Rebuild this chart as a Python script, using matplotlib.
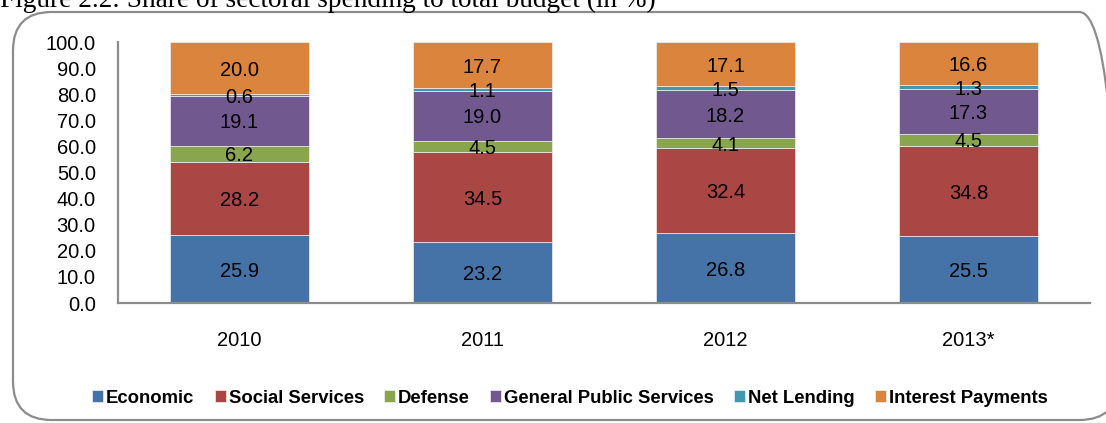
"""Stacked bar chart: share of sectoral spending to total budget"""
import matplotlib
matplotlib.use("Agg")
import matplotlib.pyplot as plt
from matplotlib.patches import FancyBboxPatch

years = ["2010", "2011", "2012", "2013*"]
sectors = ["Economic", "Social Services", "Defense", "General Public Services",
           "Net Lending", "Interest Payments"]
economic = [25.9, 23.2, 26.8, 25.5]
social = [28.2, 34.5, 32.4, 34.8]
defense = [6.2, 4.5, 4.1, 4.5]
general = [19.1, 19.0, 18.2, 17.3]
net_lending = [0.6, 1.1, 1.5, 1.3]
interest = [20.0, 17.7, 17.1, 16.6]
series = [economic, social, defense, general, net_lending, interest]
colors = ["#4572A7", "#AA4643", "#89A54E", "#71588F", "#4198AF", "#DB843D"]

plt.rcParams["font.family"] = ["Liberation Sans", "DejaVu Sans"]

W, H = 1106, 423
fig = plt.figure(figsize=(W / 100, H / 100), dpi=100)

# rounded frame around the chart
frame = FancyBboxPatch((13 / W, 3 / H), 1105 / W, 408 / H,
                       boxstyle="round,pad=0,rounding_size=0.035",
                       transform=fig.transFigure, facecolor="none",
                       edgecolor="#8c8c8c", linewidth=1.6, mutation_aspect=W / H,
                       zorder=0)
fig.patches.append(frame)

# caption above the frame, cropped at the top like the source
fig.text(0, 1 - 7 / H, "Figure 2.2: Share of sectoral spending to total budget (in %)",
         family="Liberation Serif", fontsize=19.6, va="baseline", ha="left")

ax = fig.add_axes([118 / W, 1 - 303 / H, (1090 - 118) / W, (303 - 42) / H])
ax.set_facecolor("none")

x = range(len(years))
bottom = [0.0] * len(years)
for name, vals, col in zip(sectors, series, colors):
    ax.bar(x, vals, 0.57, bottom=bottom, color=col, label=name,
           edgecolor="#f0f0f0", linewidth=0.5)
    for i, v in enumerate(vals):
        ax.text(i, bottom[i] + v / 2 - 0.8, f"{v:.1f}", ha="center", va="center",
                fontsize=14.5, color="black")
    bottom = [b + v for b, v in zip(bottom, vals)]

ax.set_xlim(-0.5, 3.5)
ax.set_ylim(0, 100)
ax.set_yticks(range(0, 101, 10))
ax.set_yticklabels([f"{t:.1f}" for t in range(0, 101, 10)], fontsize=14.5)
ax.set_xticks(list(x))
ax.set_xticklabels(years, fontsize=14.5)
ax.tick_params(axis="y", length=0, pad=16)
ax.tick_params(axis="x", length=0, pad=20)
for side in ["top", "right"]:
    ax.spines[side].set_visible(False)
for side in ["left", "bottom"]:
    ax.spines[side].set_color("#8c8c8c")
    ax.spines[side].set_linewidth(1.6)

fig.legend(loc="center", bbox_to_anchor=(570 / W, 1 - 398 / H), ncol=6,
           frameon=False, prop={"weight": "bold", "size": 13.3},
           handlelength=0.6, handleheight=0.6, handletextpad=0.15,
           columnspacing=1.1)

fig.savefig("out.png", dpi=100)
plt.close(fig)
